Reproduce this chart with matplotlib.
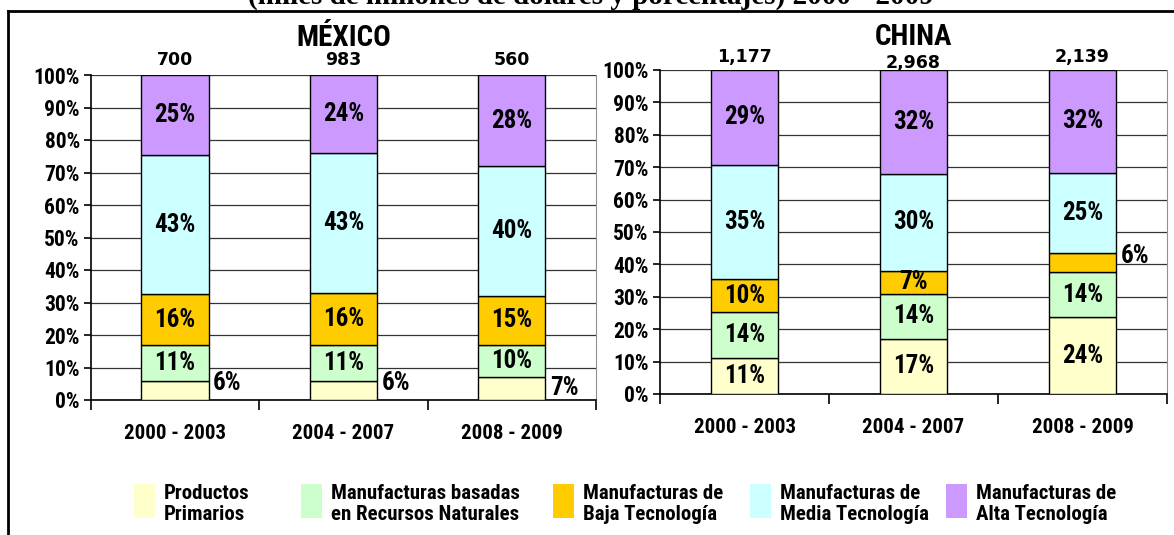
import matplotlib
matplotlib.use('Agg')
import matplotlib.pyplot as plt
from matplotlib.lines import Line2D
from matplotlib.patches import Rectangle
import numpy as np

periods = ['2000 - 2003', '2004 - 2007', '2008 - 2009']
groups = ['Productos\nPrimarios',
          'Manufacturas basadas\nen Recursos Naturales',
          'Manufacturas de\nBaja Tecnología',
          'Manufacturas de\nMedia Tecnología',
          'Manufacturas de\nAlta Tecnología']
colors = ['#FFFFCC', '#CCFFCC', '#FFCC00', '#CCFFFF', '#CC99FF']

# shares (%) per period, bottom to top: primarios, rec. naturales, baja, media, alta
mexico_shares = [[6, 11, 16, 43, 25],
                 [6, 11, 16, 43, 24],
                 [7, 10, 15, 40, 28]]
china_shares = [[11, 14, 10, 35, 29],
                [17, 14, 7, 30, 32],
                [24, 14, 6, 25, 32]]
mexico_totals = ['700', '983', '560']
china_totals = ['1,177', '2,968', '2,139']

NARROW = ['Roboto Condensed', 'PT Sans Narrow', 'Liberation Sans', 'DejaVu Sans']

W, H = 1174, 535
fig = plt.figure(figsize=(W / 100, H / 100), dpi=100)


def box(left, top, right, bottom):
    return [left / W, 1 - bottom / H, (right - left) / W, (bottom - top) / H]


def draw_panel(ax, shares, totals, title, outside, total_y, title_pad):
    data = np.array(shares, dtype=float)
    data = data / data.sum(axis=1, keepdims=True) * 100   # 100% stacked
    x = np.arange(len(periods))
    bottom = np.zeros(len(periods))
    for k in range(data.shape[1]):
        ax.bar(x, data[:, k], 0.40, bottom=bottom, color=colors[k],
               edgecolor='black', linewidth=1.0, zorder=3)
        for i in range(len(periods)):
            label = f'{shares[i][k]}%'
            if (i, k) in outside:
                ax.text(x[i] + 0.225, outside[(i, k)], label, ha='left',
                        va='center', fontsize=18, fontweight='bold',
                        family=NARROW, zorder=4)
            else:
                ax.text(x[i], bottom[i] + data[i, k] / 2, label, ha='center',
                        va='center', fontsize=18, fontweight='bold',
                        family=NARROW, zorder=4)
        bottom += data[:, k]

    for i, t in enumerate(totals):
        ax.text(x[i], total_y[i], t, ha='center', va='center', fontsize=12.5,
                fontweight='bold', family='DejaVu Sans', clip_on=False)

    ax.set_xlim(-0.5, 2.5)
    ax.set_ylim(0, 100)
    ax.set_yticks(np.arange(0, 101, 10))
    ax.set_yticklabels([f'{v}%' for v in range(0, 101, 10)])
    ax.set_xticks(x)
    ax.set_xticklabels(periods)
    ax.set_xticks([-0.5, 0.5, 1.5, 2.5], minor=True)
    ax.tick_params(axis='x', which='major', length=0, pad=17)
    ax.tick_params(axis='x', which='minor', length=7, width=1.2, direction='out')
    ax.tick_params(axis='y', length=5, width=1.2, pad=3)
    for lab in ax.get_yticklabels():
        lab.set_family(NARROW)
        lab.set_fontweight('bold')
        lab.set_fontsize(15.5)
    for lab in ax.get_xticklabels():
        lab.set_family(NARROW)
        lab.set_fontweight('bold')
        lab.set_fontsize(15)
    ax.yaxis.grid(True, color='#333333', linewidth=0.9, zorder=0)
    ax.set_axisbelow(True)
    ax.spines['left'].set_linewidth(1.2)
    ax.spines['bottom'].set_linewidth(1.2)
    ax.spines['top'].set_visible(False)
    ax.spines['right'].set_color('#909090')
    ax.set_title(title, fontsize=21, fontweight='bold', family=NARROW,
                 pad=title_pad)


ax_mx = fig.add_axes(box(91, 75, 596, 400))
draw_panel(ax_mx, mexico_shares, mexico_totals, 'MÉXICO',
           {(0, 0): 5.2, (1, 0): 5.2, (2, 0): 3.7}, [104.6, 104.6, 104.6], 21)

ax_cn = fig.add_axes(box(660, 70, 1167, 394))
draw_panel(ax_cn, china_shares, china_totals, 'CHINA',
           {(2, 2): 42.6}, [104.0, 102.2, 104.0], 18)

# legend with tall colour swatches
swatch_x = [134, 301, 553, 750, 946]
text_x = [164, 331, 583, 780, 976]
for c, g, sx, tx in zip(colors, groups, swatch_x, text_x):
    fig.patches.append(Rectangle((sx / W, 1 - 518 / H), 21 / W, 34 / H,
                                 facecolor=c, edgecolor='none',
                                 transform=fig.transFigure))
    fig.text(tx / W, 1 - 504 / H, g, ha='left', va='center', fontsize=15,
             fontweight='bold', family=NARROW, linespacing=1.15)

# outer frame and the heading cut by the page edge
fig.add_artist(Line2D([8 / W, 1], [1 - 11 / H, 1 - 11 / H], color='black',
                      linewidth=2, transform=fig.transFigure))
fig.add_artist(Line2D([8 / W, 8 / W], [0, 1 - 11 / H], color='black',
                      linewidth=2, transform=fig.transFigure))
fig.text(591 / W, 1 - 4 / H,
         '(miles de millones de dólares y porcentajes) 2000 - 2009',
         ha='center', va='baseline', fontsize=21, fontweight='bold',
         family='Liberation Serif')

fig.savefig('out.png', dpi=100)
